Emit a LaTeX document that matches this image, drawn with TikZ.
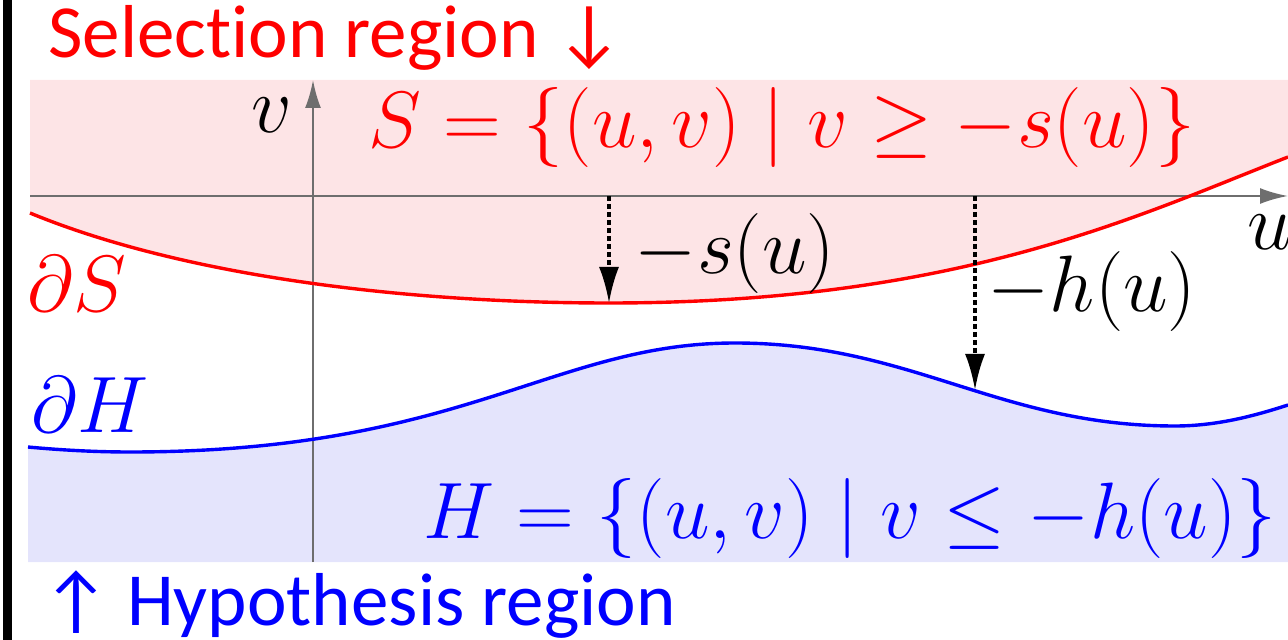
\RequirePackage{fix-cm}
\documentclass[tikz,border=0pt]{standalone}
\usepackage{fontspec}
\setsansfont{Carlito}[Ligatures=NoCommon]
\usetikzlibrary{arrows.meta}

\definecolor{axisgray}{RGB}{110,110,110}
\definecolor{sfillc}{RGB}{253,228,230}
\definecolor{hfillc}{RGB}{228,228,252}

% boundary curves of the two regions
\newcommand{\scurve}{(30,213) .. controls (180,275) and (400,303) .. (609,303)
  .. controls (959,303) and (1138,215.5) .. (1288,157)}
\newcommand{\hcurve}{(28,447) .. controls (60,450) and (95,452) .. (130,452)
  .. controls (463,452) and (553,343) .. (735,343)
  .. controls (911,343) and (999,426) .. (1175,426)
  .. controls (1220,426) and (1260,414) .. (1288,405)}

\begin{document}
\begin{tikzpicture}[x=0.5pt,y=-0.5pt,>=Latex,
  sregion/.style={fill=sfillc},
  hregion/.style={fill=hfillc},
  axis/.style={draw=axisgray,line width=1.2pt,-{Latex[length=14pt,width=8pt]}},
  bound/.style={line width=1.7pt},
  depth/.style={draw=black,line width=1.6pt,dash pattern=on 2.5pt off 1.5pt,-{Latex[length=18pt,width=10pt]}},
  mathlbl/.style={inner sep=0pt,font=\fontsize{40}{48}\selectfont},
  title/.style={inner sep=0pt,anchor=base west,font=\sffamily\fontsize{37.5}{45}\selectfont}]
  \useasboundingbox (0,0) rectangle (1288,640);
  \fill (3,0) rectangle (12,640);

  % regions
  \fill[sregion] \scurve -- (1288,80) -- (30,80) -- cycle;
  \fill[hregion] \hcurve -- (1288,562) -- (28,562) -- cycle;

  % axes
  \coordinate (vfoot) at (313,562);
  \coordinate (vtip) at (313,80);
  \coordinate (ufoot) at (30,196);
  \coordinate (utip) at (1288,196);
  \draw[axis] (vfoot) -- (vtip);
  \draw[axis] (ufoot) -- (utip);

  \draw[red,bound] \scurve;
  \draw[blue,bound] \hcurve;

  % depths below the u axis
  \coordinate (s0) at (609,196);
  \coordinate (s1) at (609,303);
  \coordinate (h0) at (975,196);
  \coordinate (h1) at (975,390);
  \draw[depth] (s0) -- (s1);
  \draw[depth] (h0) -- (h1);

  \node[mathlbl] (vlbl) at (272,115) {$v$};
  \node[mathlbl,anchor=west] (ulbl) at (1247,232) {$u$};
  \node[mathlbl,red] (sset) at (782,128) {$S=\{(u,v)\mid v\geq -s(u)\}$};
  \node[mathlbl,blue] (hset) at (850,518) {$H=\{(u,v)\mid v\leq -h(u)\}$};
  \node[mathlbl] (slbl) at (735,254) {$-s(u)$};
  \node[mathlbl] (hlbl) at (1092,292) {$-h(u)$};
  \node[mathlbl,red] (dS) at (77,284) {$\partial S$};
  \node[mathlbl,blue] (dH) at (90,405) {$\partial H$};

  \node[title,red] (sel) at (48,58) {Selection region ↓};
  \node[title,blue] (hyp) at (42,625) {↑ Hypothesis region};
\end{tikzpicture}
\end{document}
